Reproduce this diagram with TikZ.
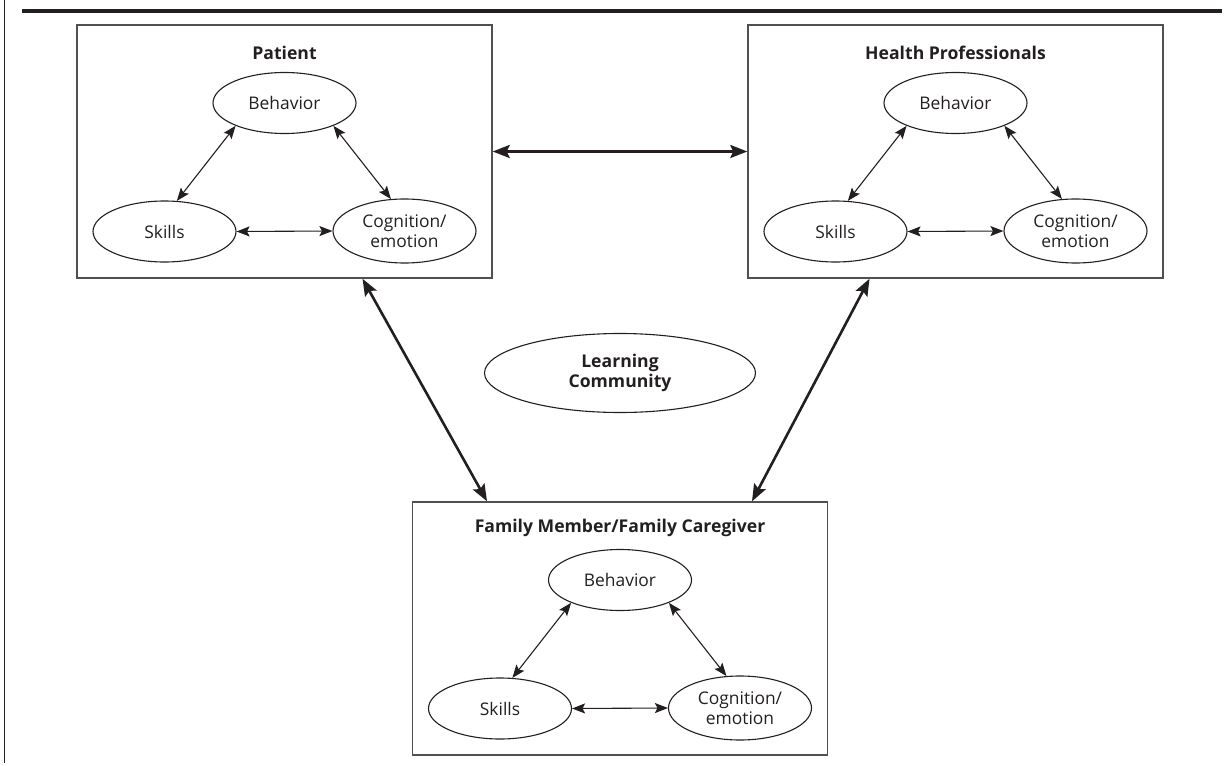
\documentclass[tikz,border=0pt]{standalone}
\usepackage{fontspec}
\setmainfont{Open Sans}
\usetikzlibrary{arrows.meta,shapes.geometric}
\definecolor{ink}{RGB}{35,31,32}
\definecolor{boxgray}{RGB}{80,80,80}
\tikzset{
  grp/.style={draw=boxgray,line width=1.4pt,rectangle,minimum width=415pt,minimum height=253pt,inner sep=0pt},
  ttl/.style={font=\fontsize{17.6}{20}\selectfont\bfseries,text=ink,inner sep=0pt},
  oval/.style={draw=ink,line width=1.1pt,ellipse,minimum width=143pt,minimum height=61pt,inner sep=0pt,
    font=\fontsize{17.4}{19.5}\selectfont,text=ink,align=center},
  thin/.style={draw=ink,line width=1.1pt,{Stealth[length=13pt,width=10pt,inset=2.5pt]}-{Stealth[length=13pt,width=10pt,inset=2.5pt]}},
  thick/.style={draw=ink,line width=2.6pt,{Stealth[length=17pt,width=13pt,inset=3pt]}-{Stealth[length=17pt,width=13pt,inset=3pt]}},
}
\begin{document}
\begin{tikzpicture}[x=1pt,y=-1pt]
\useasboundingbox (0,0) rectangle (1225,765);
% page frame
\draw[ink,line width=1.3pt] (4.5,0) -- (4.5,763);
\draw[ink,line width=4pt] (22,11) -- (1222,11);

% groups
\node[grp] (pat) at (284.5,151.5) {};
\node[grp] (hp)  at (955.5,151.5) {};
\node[grp] (fam) at (620,628.5) {};

\node[ttl] (patT) at (284.5,53) {Patient};
\node[ttl] (hpT)  at (955.5,53) {Health Professionals};
\node[ttl] (famT) at (620,528) {Family Member/Family Caregiver};

% Patient inner
\node[oval] (pb) at (284.5,103) {Behavior};
\node[oval] (ps) at (164.5,231.5) {Skills};
\node[oval,minimum height=64pt] (pc) at (404.5,231) {Cognition/\\emotion};
% HP inner
\node[oval] (hb) at (955.5,103) {Behavior};
\node[oval] (hs) at (835.5,231.5) {Skills};
\node[oval,minimum height=64pt] (hc) at (1075.5,231) {Cognition/\\emotion};
% Family inner
\node[oval] (fb) at (620,580) {Behavior};
\node[oval] (fs) at (500,708.5) {Skills};
\node[oval,minimum height=64pt] (fc) at (740,708) {Cognition/\\emotion};

% center
\node[draw=ink,line width=1.1pt,ellipse,minimum width=271pt,minimum height=79pt,inner sep=0pt,
  font=\fontsize{17.6}{20.5}\selectfont\bfseries,text=ink,align=center] (lc) at (620,373) {Learning\\Community};

% inner arrows
\foreach \b/\s/\c in {pb/ps/pc,hb/hs/hc,fb/fs/fc}{
  \draw[thin] (\b.205) -- (\s.68);
  \draw[thin] (\b.335) -- (\c.113);
  \draw[thin] (\s.east) -- (\c.west);
}

% group arrows
\draw[thick] (pat.east) -- (hp.west);
\draw[thick] ([xshift=78pt]pat.south) -- ([xshift=-133pt]fam.north);
\draw[thick] ([xshift=-86pt]hp.south) -- ([xshift=132pt]fam.north);
\end{tikzpicture}
\end{document}
